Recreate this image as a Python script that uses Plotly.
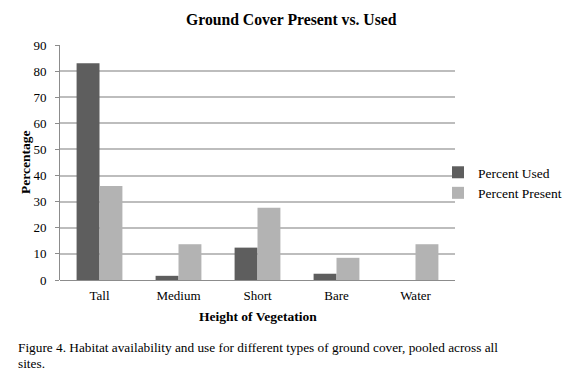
import plotly.graph_objects as go

categories = ["Tall", "Medium", "Short", "Bare", "Water"]
percent_used = [83, 1.6, 12.4, 2.4, 0]
percent_present = [36, 13.7, 27.7, 8.5, 13.7]
y_ticks = [0, 10, 20, 30, 40, 50, 60, 70, 80, 90]

FONT = "Liberation Serif"
L, R, T, B = 60, 129, 45, 100
W, H = 584, 380
PW, PH = W - L - R, H - T - B


def px_x(x):
    return (x - L) / PW


def px_y(y):
    return (H - B - y) / PH


fig = go.Figure()
fig.add_trace(go.Bar(name="Percent Used", x=categories, y=percent_used,
                     marker=dict(color="#5e5e5e", line=dict(width=0))))
fig.add_trace(go.Bar(name="Percent Present", x=categories, y=percent_present,
                     marker=dict(color="#b3b3b3", line=dict(width=0))))

fig.update_layout(
    width=W, height=H,
    margin=dict(l=L, r=R, t=T, b=B, autoexpand=False),
    paper_bgcolor="white", plot_bgcolor="white",
    font=dict(family=FONT, size=13, color="black"),
    barmode="group", bargap=0.42, bargroupgap=0,
    legend=dict(x=px_x(438), y=px_y(157), xanchor="left", yanchor="top",
                font=dict(family=FONT, size=13.5), itemwidth=30,
                tracegroupgap=2, bgcolor="rgba(0,0,0,0)"),
    xaxis=dict(showgrid=False, showline=False, ticks="", automargin=False,
               ticklabelstandoff=6,
               tickfont=dict(family=FONT, size=13)),
    yaxis=dict(range=[0, 90], tickvals=y_ticks, showgrid=True, automargin=False,
               gridcolor="#bdbdbd", gridwidth=2,
               showline=True, linecolor="#8c8c8c", linewidth=1,
               ticks="outside", ticklen=4, tickcolor="#8c8c8c",
               ticklabelstandoff=6,
               zeroline=True, zerolinecolor="#8c8c8c", zerolinewidth=1,
               tickfont=dict(family=FONT, size=13)),
)

fig.add_annotation(text="<b>Ground Cover Present vs. Used</b>", xref="paper", yref="paper",
                   x=px_x(291), y=px_y(19), xanchor="center", yanchor="middle",
                   showarrow=False, font=dict(family=FONT, size=15.7))
fig.add_annotation(text="<b>Percentage</b>", xref="paper", yref="paper",
                   x=px_x(25), y=px_y(163), xanchor="center", yanchor="middle",
                   textangle=-90, showarrow=False, font=dict(family=FONT, size=13.5))
fig.add_annotation(text="<b>Height of Vegetation</b>", xref="paper", yref="paper",
                   x=px_x(258), y=px_y(316), xanchor="center", yanchor="middle",
                   showarrow=False, font=dict(family=FONT, size=13.5))
fig.add_annotation(text="Figure 4. Habitat availability and use for different types of ground cover, pooled across all",
                   xref="paper", yref="paper", x=px_x(16), y=px_y(347), xanchor="left", yanchor="middle",
                   showarrow=False, font=dict(family=FONT, size=13.3))
fig.add_annotation(text="sites.",
                   xref="paper", yref="paper", x=px_x(16), y=px_y(363), xanchor="left", yanchor="middle",
                   showarrow=False, font=dict(family=FONT, size=13.3))

fig.write_html("out.html", config={"displayModeBar": False},
               post_script="document.body.style.margin='0';")
